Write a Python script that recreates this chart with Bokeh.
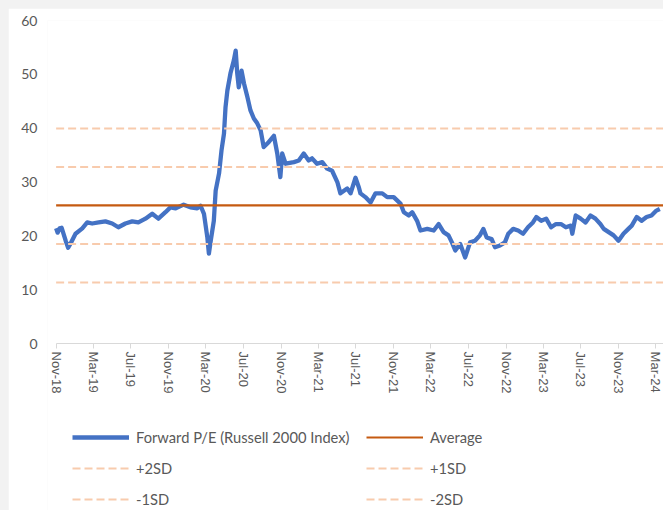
import pandas as pd
from bokeh.plotting import figure
from bokeh.models import Range1d, FixedTicker, Legend, LegendItem
from bokeh.embed import file_html
from bokeh.resources import INLINE

# ---- data ----
dates = [
    "2018-11-01", "2018-11-06", "2018-11-12", "2018-11-19", "2018-12-02", "2018-12-10", "2018-12-18",
    "2019-01-03", "2019-01-25", "2019-02-10", "2019-02-26", "2019-03-19", "2019-04-10", "2019-05-02",
    "2019-05-22", "2019-06-14", "2019-07-06", "2019-07-26", "2019-08-18", "2019-09-09", "2019-09-29",
    "2019-10-22", "2019-11-07", "2019-11-24", "2019-12-20", "2020-01-11", "2020-02-02", "2020-02-13",
    "2020-02-24", "2020-03-06", "2020-03-11", "2020-03-17", "2020-03-27", "2020-04-02", "2020-04-13",
    "2020-04-21", "2020-04-29", "2020-05-04", "2020-05-10", "2020-05-20", "2020-05-31", "2020-06-06",
    "2020-06-11", "2020-06-16", "2020-06-25", "2020-07-03", "2020-07-14", "2020-07-24", "2020-08-04",
    "2020-08-15", "2020-08-26", "2020-09-05", "2020-09-21", "2020-10-08", "2020-10-19", "2020-10-29",
    "2020-11-04", "2020-11-15", "2020-12-12", "2020-12-28", "2021-01-13", "2021-01-29", "2021-02-09",
    "2021-02-25", "2021-03-14", "2021-03-30", "2021-04-15", "2021-05-02", "2021-05-12", "2021-06-03",
    "2021-06-14", "2021-06-30", "2021-07-11", "2021-07-16", "2021-08-01", "2021-08-18", "2021-09-03",
    "2021-09-25", "2021-10-11", "2021-11-01", "2021-11-23", "2021-12-04", "2021-12-20", "2021-12-31",
    "2022-01-16", "2022-01-27", "2022-02-18", "2022-03-11", "2022-03-27", "2022-04-12", "2022-04-28",
    "2022-05-09", "2022-05-20", "2022-06-05", "2022-06-21", "2022-07-07", "2022-07-23", "2022-08-08",
    "2022-08-19", "2022-08-30", "2022-09-15", "2022-09-26", "2022-10-12", "2022-10-28", "2022-11-08",
    "2022-11-24", "2022-12-10", "2022-12-26", "2023-01-11", "2023-01-27", "2023-02-07", "2023-02-23",
    "2023-03-11", "2023-03-27", "2023-04-12", "2023-04-28", "2023-05-14", "2023-05-30", "2023-06-04",
    "2023-06-15", "2023-07-01", "2023-07-17", "2023-08-02", "2023-08-18", "2023-09-03", "2023-09-14",
    "2023-09-30", "2023-10-16", "2023-11-01", "2023-11-17", "2023-12-03", "2023-12-14", "2023-12-30",
    "2024-01-15", "2024-01-31", "2024-02-16", "2024-03-03", "2024-03-14",
]
forward_pe = [
    21.4, 20.6, 21.4, 21.5, 19.1, 17.8, 18.6,
    20.4, 21.4, 22.5, 22.3, 22.5, 22.7, 22.3,
    21.6, 22.3, 22.7, 22.5, 23.2, 24.1, 23.2,
    24.4, 25.3, 25.1, 25.8, 25.3, 25.1, 25.6,
    24.1, 19.7, 16.7, 19.1, 22.8, 28.4, 31.6,
    35.9, 39.0, 43.9, 47.0, 50.2, 52.6, 54.4,
    50.2, 47.6, 50.7, 48.3, 45.8, 43.3, 41.8,
    40.9, 39.6, 36.5, 37.4, 38.6, 35.3, 30.9,
    35.3, 33.4, 33.7, 34.0, 35.3, 34.0, 34.4,
    33.4, 33.7, 32.5, 32.1, 30.0, 27.9, 28.8,
    27.9, 30.8, 29.0, 27.9, 27.2, 26.2, 27.9,
    27.9, 27.2, 27.2, 26.0, 24.4, 23.8, 24.4,
    22.8, 21.0, 21.3, 21.0, 22.2, 20.7, 20.1,
    18.8, 17.3, 18.5, 16.0, 18.8, 19.1, 20.1,
    21.3, 19.7, 19.4, 17.9, 18.2, 18.8, 20.4,
    21.3, 21.0, 20.4, 21.6, 22.5, 23.5, 22.8,
    23.2, 21.6, 22.2, 22.2, 21.6, 21.9, 20.4,
    23.8, 23.2, 22.5, 23.8, 23.2, 22.2, 21.3,
    20.7, 20.1, 19.1, 20.4, 21.3, 21.9, 23.5,
    22.8, 23.5, 23.8, 24.7, 25.0,
]
average_pe = 25.65
sd_pe = 7.15
band_labels = ["+2SD", "+1SD", "-1SD", "-2SD"]
band_multipliers = [2, 1, -1, -2]

tick_dates = [
    "2018-11-01", "2019-03-01", "2019-07-01", "2019-11-01", "2020-03-01", "2020-07-01",
    "2020-11-01", "2021-03-01", "2021-07-01", "2021-11-01", "2022-03-01", "2022-07-01",
    "2022-11-01", "2023-03-01", "2023-07-01", "2023-11-01", "2024-03-01",
]
tick_labels = [
    "Nov-18", "Mar-19", "Jul-19", "Nov-19", "Mar-20", "Jul-20",
    "Nov-20", "Mar-21", "Jul-21", "Nov-21", "Mar-22", "Jul-22",
    "Nov-22", "Mar-23", "Jul-23", "Nov-23", "Mar-24",
]
y_ticks = [0, 10, 20, 30, 40, 50, 60]

# ---- figure ----
x = pd.to_datetime(dates)
x_first = x[0]
# view window (slightly wider on the left so the first tick label is not clipped)
view_start = pd.Timestamp("2018-10-04")
view_end = pd.Timestamp("2024-03-26")

# The frame runs to the bottom of the figure so the legend can sit under the axis;
# the part of the y range below 0 holds the tick labels and the legend.
p = figure(
    width=655, height=502,
    x_axis_type="datetime",
    x_range=Range1d(view_start, view_end),
    y_range=Range1d(-31.0, 60),
    output_backend="svg",
    toolbar_location=None,
    min_border_left=39, min_border_right=0, min_border_top=12, min_border_bottom=0,
    background_fill_color="white", border_fill_color="white",
)
p.outline_line_color = None
p.xgrid.visible = False
p.ygrid.visible = False

r_pe = p.line(x, forward_pe, line_color="#4472C4", line_width=4.3, line_join="round")
r_avg = p.line([x_first, view_end], [average_pe, average_pe], line_color="#C55A11", line_width=2.2)
band_renderers = []
for m in band_multipliers:
    yv = average_pe + m * sd_pe
    band_renderers.append(
        p.line([x_first, view_end], [yv, yv], line_color="#F8CBAD", line_width=2, line_dash="8 4")
    )

# x axis, pinned at y = 0 and starting at the first date
tick_ms = [pd.Timestamp(d).value // 10**6 for d in tick_dates]
xa = p.xaxis[0]
xa.fixed_location = 0
xa.bounds = (x_first, view_end)
xa.ticker = FixedTicker(ticks=tick_ms)
xa.major_label_overrides = {t: lab for t, lab in zip(tick_ms, tick_labels)}
xa.major_label_orientation = "vertical"
xa.axis_line_color = "#d9d9d9"
xa.major_tick_line_color = "#d9d9d9"
xa.major_tick_out = 5
xa.major_tick_in = 0
xa.minor_tick_line_color = None
xa.major_label_standoff = 3
xa.major_label_text_font = "Liberation Sans"
xa.major_label_text_font_size = "13px"
xa.major_label_text_color = "#595959"

# y axis
ya = p.yaxis[0]
ya.ticker = FixedTicker(ticks=y_ticks)
ya.axis_line_color = None
ya.major_tick_line_color = None
ya.minor_tick_line_color = None
ya.major_tick_out = 0
ya.major_tick_in = 0
ya.major_label_standoff = 10
ya.major_label_text_font = "Lato"
ya.major_label_text_font_size = "14px"
ya.major_label_text_color = "#595959"

legend = Legend(
    items=[
        LegendItem(label="Forward P/E (Russell 2000 Index)", renderers=[r_pe]),
        LegendItem(label="Average", renderers=[r_avg]),
    ] + [LegendItem(label=lab, renderers=[r]) for lab, r in zip(band_labels, band_renderers)],
    location=(25, 1),
    orientation="horizontal",
    ncols=2,
    glyph_width=57, glyph_height=20,
    label_standoff=7, label_width=219, label_height=20,
    spacing=11, padding=0, margin=0,
    border_line_color=None, background_fill_alpha=0,
    label_text_font="Lato", label_text_font_size="14.7px", label_text_color="#595959",
)
p.add_layout(legend, "center")

html = file_html(p, INLINE)
style = ("<style>html, body { background: #f2f2f2 !important; } "
         "body { padding: 8px 0 0 8px !important; box-sizing: border-box !important; }</style>")
html = html.replace("</head>", style + "</head>", 1)
open("out.html", "w").write(html)
